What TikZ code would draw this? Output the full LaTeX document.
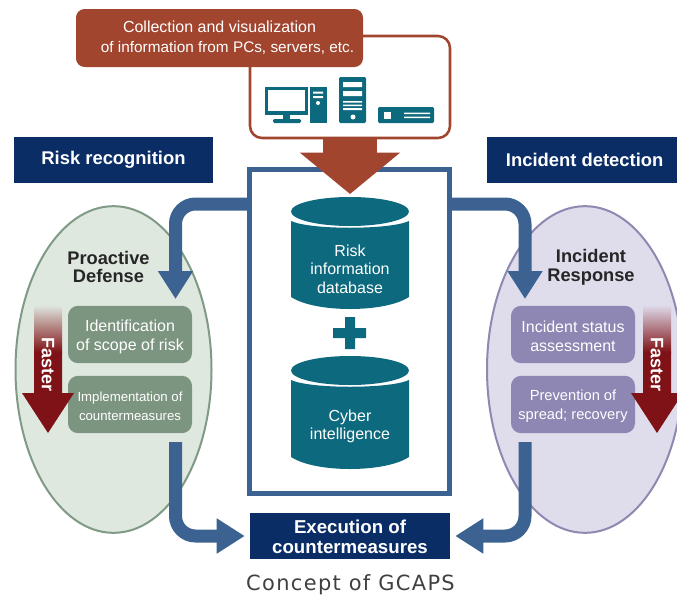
\documentclass[tikz,border=0pt]{standalone}
\usepackage{fontspec}
\setmainfont{Liberation Sans}
\newfontfamily\capfont[LetterSpace=6.4]{DejaVu Sans}
\usetikzlibrary{arrows.meta,calc,shapes.geometric}
\definecolor{teal1}{HTML}{0D697D}
\definecolor{brown1}{HTML}{A1452F}
\definecolor{blue1}{HTML}{3B6290}
\definecolor{navy1}{HTML}{0A2D66}
\definecolor{gfill}{HTML}{DFE8DF}
\definecolor{gline}{HTML}{7F9A85}
\definecolor{gbox}{HTML}{7C9580}
\definecolor{pfill}{HTML}{DFDCEC}
\definecolor{pline}{HTML}{8F88B0}
\definecolor{pbox}{HTML}{8E86B3}
\definecolor{red1}{HTML}{7F1216}
\tikzset{
  x=0.75pt,y=-0.75pt,
  banner/.style={fill=navy1,text=white,inner sep=0pt,align=center,font=\fontsize{13.8}{16}\selectfont\bfseries},
  oval/.style={ellipse,inner sep=0pt,minimum width=147pt,minimum height=245pt},
  stepbox/.style={rounded corners=7.5pt,minimum width=93pt,minimum height=43pt,text depth=0pt,inner sep=0pt,text=white,align=center,font=\fontsize{12}{14.4}\selectfont},
  heading/.style={align=center,text=black!85,inner sep=0pt,font=\fontsize{13.7}{14}\selectfont\bfseries},
  cyltext/.style={text=white,align=center,inner sep=0pt,font=\fontsize{12}{13.9}\selectfont},
  flow/.style={draw=blue1,line width=9.75pt,-{Triangle[length=21pt,width=25pt]},rounded corners=15pt},
  flowb/.style={draw=blue1,line width=9.75pt,-{Triangle[length=21pt,width=25pt]},rounded corners=15pt,shorten >=3.75pt},
  fasterlbl/.style={rotate=-90,text=white,inner sep=0pt,font=\fontsize{13.5}{16}\selectfont\bfseries},
  steptext/.style={text=white,align=center,inner sep=0pt}
}
\newcommand{\cyl}[2]{% top y, bottom y
  \fill[teal1] (291,#1+24) .. controls (310,#1+33) and (390,#1+33) .. (409,#1+24) -- (409,#2-12)
     .. controls (395,#2-3) and (370,#2) .. (350,#2) .. controls (330,#2) and (305,#2-3) .. (291,#2-12) -- cycle;
  \fill[teal1] (350,#1+14.5) ellipse [x radius=59,y radius=14.5];
}
\newcommand{\fasterarrow}[2]{% centre x, fade colour
  \shade[top color=#2,bottom color=red1] (#1-14,305) rectangle (#1+14,352);
  \fill[red1] (#1-14,351.5) -- (#1+14,351.5) -- (#1+14,393) -- (#1+26,393) -- (#1,433) -- (#1-26,393) -- (#1-14,393) -- cycle;
}
\begin{document}
\begin{tikzpicture}
\useasboundingbox (0,0) rectangle (677,596);
\clip (0,0) rectangle (677,596);
% ovals
\node[oval,draw=gline,fill=gfill,line width=1.5pt] (leftoval) at (113.5,369.5) {};
\node[oval,draw=pline,fill=pfill,line width=1.5pt] (rightoval) at (585,369.5) {};
% banners
\node[banner,minimum width=149.25pt,minimum height=34.5pt] (risk) at (113.5,160) {Risk recognition};
\node[banner,minimum width=142.5pt,minimum height=34.5pt] (detect) at (582,160) {\hspace*{4pt}Incident detection};
% sources
\node[draw=brown1,fill=white,line width=1.9pt,rounded corners=9pt,minimum width=150pt,minimum height=76.5pt,inner sep=0pt] (sources) at (350,87) {};
% central frame
\node[draw=blue1,fill=white,line width=3.9pt,minimum width=149.5pt,minimum height=243pt,inner sep=0pt] (frame) at (349.5,331.5) {};
% brown arrow
\coordinate (browntip) at (350,194);
\draw[draw=brown1,line width=41pt,-{Triangle[length=31pt,width=73.5pt]}] (sources.south) -- (browntip);
% collection label
\node[fill=brown1,rounded corners=6.5pt,minimum width=215.25pt,minimum height=43.5pt,inner sep=0pt,text=white,align=center,font=\fontsize{11.5}{15.2}\selectfont] (collect) at (219.5,38) {{\fontsize{12}{15.2}\selectfont Collection and visualization}\\\hspace*{12pt}of information from PCs, servers, etc.};
% icons
\fill[teal1] (265,87) rectangle (308,115);
\fill[white] (268,90) rectangle (305,111);
\fill[teal1] (283,115) rectangle (290,119);
\fill[teal1,rounded corners=1pt] (273,119) rectangle (301,123);
\fill[teal1] (310,87) rectangle (327,123);
\fill[white] (313,91.5) rectangle (323,93.5) (313,96) rectangle (323,98);
\fill[white] (318,103) circle [radius=2];
\fill[teal1,rounded corners=1pt] (339,77) rectangle (366,123);
\fill[white] (343,82) rectangle (362,87) (343,91) rectangle (362,96);
\fill[white] (343,101) rectangle (362,102.5) (343,104.5) rectangle (362,106) (343,108) rectangle (362,110);
\fill[white] (353,117) circle [radius=2.5];
\fill[teal1,rounded corners=1pt] (378,107) rectangle (434,123);
\fill[white] (384,112) rectangle (391,119);
\fill[white] (404,112.5) rectangle (430,114) (404,116.5) rectangle (430,118);
% cylinders
\cyl{197}{309}
\cyl{356}{469}
\fill[teal1] (345,317) rectangle (355,349) (333,328) rectangle (366,338);
\node[cyltext] (riskdb) at (350,269) {Risk\\information\\database};
\node[cyltext] (cyber) at (350,426.5) {Cyber\\intelligence};
% step boxes
\node[heading] (proactive) at (108.5,267) {Proactive\\Defense};
\node[heading] (response) at (591,267) {Incident\\Response};
\node[stepbox,fill=gbox] (identify) at (130,334.5) {};
\node[stepbox,fill=gbox] (implement) at (130,404.5) {};
\node[stepbox,fill=pbox] (status) at (573,334.5) {};
\node[stepbox,fill=pbox] (prevent) at (573,404.5) {};
\node[steptext,font=\fontsize{12}{14.4}\selectfont] (identifyt) at (identify) [yshift=-1.5pt] {Identification\\of scope of risk};
\node[steptext,font=\fontsize{9.9}{14.4}\selectfont] (implementt) at (implement) [yshift=-1.2pt] {Implementation of\\countermeasures};
\node[steptext,font=\fontsize{12}{14.4}\selectfont] (statust) at (status) [yshift=-1.5pt] {Incident status\\assessment};
\node[steptext,font=\fontsize{11}{14.4}\selectfont] (preventt) at (prevent) [yshift=-1.2pt] {Prevention of\\spread; recovery};
% execution
\node[fill=navy1,minimum width=150pt,minimum height=34.5pt,inner sep=0pt] (exec) at (350,536) {};
\node[text=white,align=center,inner sep=0pt,font=\fontsize{14}{15}\selectfont\bfseries] (exectext) at (350,537) {Execution of\\countermeasures};
% blue flows
\coordinate (lstart) at (249,204);
\coordinate (ltip) at (175.5,299);
\coordinate (rstart) at (451,204);
\coordinate (rtip) at (525,299);
\coordinate (lout) at (175.5,442);
\coordinate (rout) at (525,442);
\draw[flow] (lstart) -| (ltip);
\draw[flow] (rstart) -| (rtip);
\draw[flowb] (lout) |- (exec.west);
\draw[flowb] (rout) |- (exec.east);
% faster arrows
\fasterarrow{48}{gfill}
\fasterarrow{657}{pfill}
\node[fasterlbl] (fastl) at (48,364.5) {Faster};
\node[fasterlbl] (fastr) at (657,364.5) {Faster};
% caption
\node[inner sep=0pt,text=black!75,font=\capfont\fontsize{15.7}{18}\selectfont] (caption) at (350.5,585) {Concept of GCAPS};
\end{tikzpicture}
\end{document}
